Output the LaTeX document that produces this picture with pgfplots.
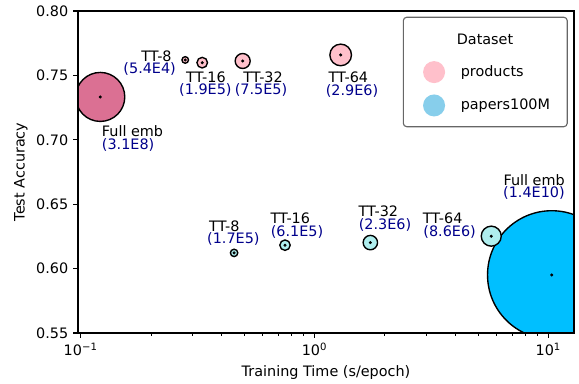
\documentclass[border=0pt]{standalone}
\usepackage{fontspec}
\setmainfont{DejaVu Sans}
\usepackage{pgfplots}
\usepackage{pgfplotstable}
\pgfplotsset{compat=1.18}
\definecolor{pvr}{HTML}{DB7093}
\definecolor{pk}{HTML}{FFC0CB}
\definecolor{dsb}{HTML}{00BFFF}
\definecolor{ptq}{HTML}{AFEEEE}
\definecolor{skb}{HTML}{87CEEB}
\definecolor{nv}{HTML}{00008B}
\definecolor{legedge}{HTML}{666666}
\newcommand{\fs}{\fontsize{10.4}{12.5}\selectfont}
\tikzset{
  lab/.style={inner sep=0pt, anchor=center, font=\fs},
  num/.style={inner sep=0pt, anchor=center, text=nv, font=\fs},
}

% x = time (s/epoch), y = test accuracy, r = bubble radius (pt)
\pgfplotstableread{
x y r
0.1213 0.7333 17.71
}\prodFull
\pgfplotstableread{
x y r
0.280 0.7620 2.38
0.331 0.7599 3.83
0.493 0.7612 5.42
1.294 0.7659 7.81
}\prodTT
\pgfplotstableread{
x y r
10.34 0.5951 46.4
}\papFull
\pgfplotstableread{
x y r
0.453 0.6122 2.67
0.748 0.6182 3.76
1.733 0.6202 5.20
5.70 0.6252 7.23
}\papTT

\begin{document}
\begin{tikzpicture}
\useasboundingbox (-56.37pt,-36.14pt) rectangle (362.07pt,240.66pt);
\begin{axis}[
  width=358.5pt, height=232.7pt, scale only axis,
  at={(0,0)}, anchor=south west,
  xmode=log, xmin=0.0974, xmax=12.88, ymin=0.55, ymax=0.80,
  xtick={0.1,1,10},
  xticklabels={10\textsuperscript{−1},10\textsuperscript{0},10\textsuperscript{1}},
  minor xtick={0.2,0.3,0.4,0.5,0.6,0.7,0.8,0.9,2,3,4,5,6,7,8,9},
  ytick={0.55,0.60,0.65,0.70,0.75,0.80},
  yticklabels={0.55,0.60,0.65,0.70,0.75,0.80},
  tick align=outside, tick pos=left,
  major tick length=3.5pt, minor tick length=2pt,
  tick style={black, line width=0.8pt},
  minor tick style={black, line width=0.6pt},
  axis line style={line width=0.8pt},
  tick label style={font=\fs},
  xlabel={Training Time (s/epoch)},
  ylabel={Test Accuracy},
  xlabel style={at={(axis description cs:0.5,-0.1242)}, anchor=center, font=\fs},
  ylabel style={at={(axis description cs:-0.115,0.5)}, anchor=center, font=\fs},
  clip mode=individual, clip marker paths=true, axis on top,
  legend image code/.code={\fill[#1] (0pt,0pt) circle (7.95pt);},
  legend cell align=left,
  legend style={at={(0.6951,0.8453)}, anchor=north west, draw=none, fill=none,
    inner sep=0pt, column sep=11.35pt, row sep=8.2pt,
    /tikz/every even column/.style={},
    nodes={inner sep=0pt}, font=\fs},
]
\addlegendimage{fill=pk, draw=none}
\addlegendentry{products}
\addlegendimage{fill=skb, draw=none}
\addlegendentry{papers100M}

\addplot[forget plot, scatter, only marks, mark=*, line width=1pt,
  scatter/use mapped color={draw=black, fill=pvr},
  visualization depends on={\thisrow{r} \as \rr},
  scatter/@pre marker code/.append style={/tikz/mark size=\rr}] table[x=x,y=y] \prodFull;
\addplot[forget plot, scatter, only marks, mark=*, line width=1pt,
  scatter/use mapped color={draw=black, fill=pk},
  visualization depends on={\thisrow{r} \as \rr},
  scatter/@pre marker code/.append style={/tikz/mark size=\rr}] table[x=x,y=y] \prodTT;
\addplot[forget plot, scatter, only marks, mark=*, line width=1pt,
  scatter/use mapped color={draw=black, fill=dsb},
  visualization depends on={\thisrow{r} \as \rr},
  scatter/@pre marker code/.append style={/tikz/mark size=\rr}] table[x=x,y=y] \papFull;
\addplot[forget plot, scatter, only marks, mark=*, line width=1pt,
  scatter/use mapped color={draw=black, fill=ptq},
  visualization depends on={\thisrow{r} \as \rr},
  scatter/@pre marker code/.append style={/tikz/mark size=\rr}] table[x=x,y=y] \papTT;
% centre dots
\addplot[forget plot, only marks, mark=*, mark size=0.9pt, black] table[x=x,y=y] \prodFull;
\addplot[forget plot, only marks, mark=*, mark size=0.9pt, black] table[x=x,y=y] \prodTT;
\addplot[forget plot, only marks, mark=*, mark size=0.9pt, black] table[x=x,y=y] \papFull;
\addplot[forget plot, only marks, mark=*, mark size=0.9pt, black] table[x=x,y=y] \papTT;

% products labels
\node[lab, xshift=-20.8pt, yshift=2.9pt] at (axis cs:0.280,0.7620) {TT-8};
\node[num, xshift=-25.7pt, yshift=-6.5pt] at (axis cs:0.280,0.7620) {(5.4E4)};
\node[lab, xshift=2.7pt, yshift=-10.3pt] at (axis cs:0.331,0.7599) {TT-16};
\node[num, xshift=2.3pt, yshift=-20.1pt] at (axis cs:0.331,0.7599) {(1.9E5)};
\node[lab, xshift=14.7pt, yshift=-11.6pt] at (axis cs:0.493,0.7612) {TT-32};
\node[num, xshift=13.2pt, yshift=-21.3pt] at (axis cs:0.493,0.7612) {(7.5E5)};
\node[lab, xshift=5.5pt, yshift=-15.9pt] at (axis cs:1.294,0.7659) {TT-64};
\node[num, xshift=8.2pt, yshift=-25.7pt] at (axis cs:1.294,0.7659) {(2.9E6)};
\node[lab, anchor=west, xshift=1pt, yshift=-24.6pt] at (axis cs:0.1213,0.7333) {Full emb};
\node[num, anchor=west, xshift=1pt, yshift=-34.7pt] at (axis cs:0.1213,0.7333) {(3.1E8)};
% papers100M labels
\node[lab, xshift=-7pt, yshift=19.5pt] at (axis cs:0.453,0.6122) {TT-8};
\node[num, xshift=-0.5pt, yshift=10.1pt] at (axis cs:0.453,0.6122) {(1.7E5)};
\node[lab, xshift=3.8pt, yshift=19.5pt] at (axis cs:0.748,0.6182) {TT-16};
\node[num, xshift=8.7pt, yshift=9.6pt] at (axis cs:0.748,0.6182) {(6.1E5)};
\node[lab, xshift=5.8pt, yshift=22.9pt] at (axis cs:1.733,0.6202) {TT-32};
\node[num, xshift=10.6pt, yshift=12.4pt] at (axis cs:1.733,0.6202) {(2.3E6)};
\node[lab, xshift=-35.1pt, yshift=13pt] at (axis cs:5.70,0.6252) {TT-64};
\node[num, xshift=-30.1pt, yshift=3.1pt] at (axis cs:5.70,0.6252) {(8.6E6)};
\node[lab, anchor=east, xshift=9.6pt, yshift=68.6pt] at (axis cs:10.34,0.5951) {Full emb};
\node[num, anchor=east, xshift=9.6pt, yshift=58.9pt] at (axis cs:10.34,0.5951) {(1.4E10)};

% legend frame and title
\draw[rounded corners=2.5pt, draw=legedge, line width=0.8pt, fill=white]
  (rel axis cs:0.6558,0.6407) rectangle (rel axis cs:0.9863,0.9807);
\node[lab] at (rel axis cs:0.8206,0.9123) {Dataset};
\end{axis}
\end{tikzpicture}
\end{document}
